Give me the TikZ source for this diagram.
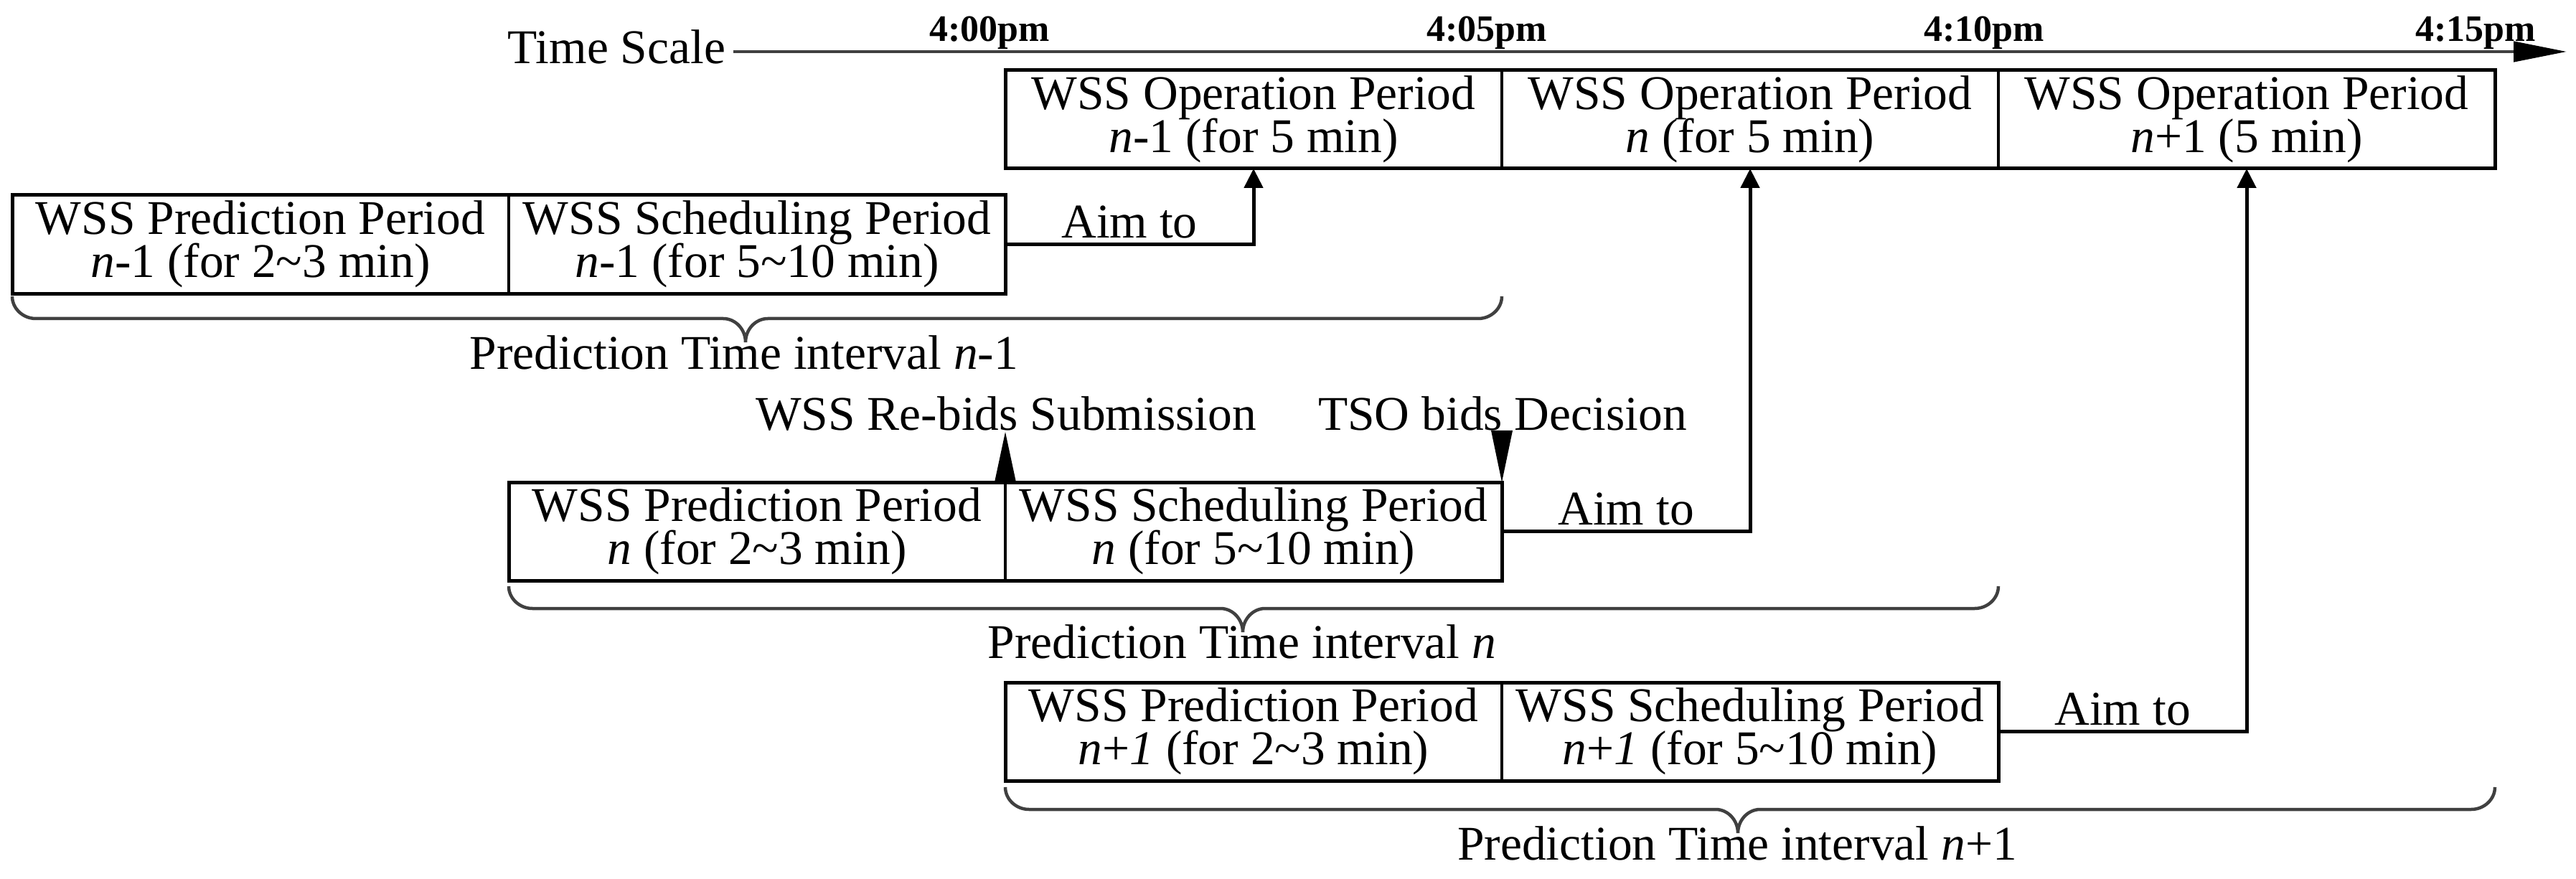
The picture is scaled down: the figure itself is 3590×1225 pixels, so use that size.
\documentclass[tikz,border=0pt]{standalone}
\usepackage{fontspec}
\setmainfont{Liberation Serif}
\usetikzlibrary{arrows.meta,calc}
\definecolor{axisgray}{HTML}{404040}
\newcommand{\diagfont}{\fontsize{13.5pt}{12pt}\selectfont\lineskiplimit=-20pt\relax}
\newcommand{\timefont}{\fontsize{10.4pt}{12pt}\selectfont\bfseries}
\tikzset{
  cell/.style={draw, line width=0.7pt, minimum width=138.4pt, minimum height=27.4pt,
    inner sep=0pt, outer sep=0pt, anchor=north west, align=center, font=\diagfont},
  outerbox/.style={line width=1pt},
  aim/.style={line width=1pt, -{Triangle[length=5.4pt,width=5.2pt]}},
  aimlbl/.style={anchor=base, inner sep=0pt, yshift=1.8pt, font=\diagfont},
  lbl/.style={anchor=base, inner sep=0pt, font=\diagfont},
  tlabel/.style={anchor=base, inner sep=0pt, font=\timefont},
  axisline/.style={line width=0.9pt, draw=axisgray, -{Triangle[length=14.8pt,width=5.6pt,color=black]}},
  brc/.style={line width=0.9pt, draw=axisgray},
}
% xl, xr, xt, y  (picture units, y downwards)
\newcommand{\curlybrace}[4]{%
  \draw[brc] (#1,#4) .. controls (#1,{#4+17}) and ({#1+15},{#4+31}) .. ({#1+33},{#4+31})
    -- ({#3-31},{#4+31}) .. controls ({#3-14},{#4+31}) and (#3,{#4+46}) .. (#3,{#4+64})
    .. controls (#3,{#4+46}) and ({#3+14},{#4+31}) .. ({#3+31},{#4+31})
    -- ({#2-33},{#4+31}) .. controls ({#2-15},{#4+31}) and (#2,{#4+17}) .. (#2,#4);}
\begin{document}
\begin{tikzpicture}[x=0.2pt,y=-0.2pt]
\useasboundingbox (0,0) rectangle (3590,1225);

% time axis
\node[anchor=base east, inner sep=0pt, font=\diagfont] (tscale) at (1012,89) {Time Scale};
\coordinate (ax0) at (1022,72);
\coordinate (ax1) at (3577,72);
\draw[axisline] (ax0) -- (ax1);
\node[tlabel] (t0) at (1379,58) {4:00pm};
\node[tlabel] (t5) at (2072,58) {4:05pm};
\node[tlabel] (t10) at (2765,58) {4:10pm};
\node[tlabel] (t15) at (3450,58) {4:15pm};

% operation periods
\node[cell] (op1) at (1401,98) {WSS Operation Period\\\textit{n}-1 (for 5 min)};
\node[cell] (op2) at (op1.north east) {WSS Operation Period\\\textit{n} (for 5 min)};
\node[cell] (op3) at (op2.north east) {WSS Operation Period\\\textit{n}+1 (5 min)};
\draw[outerbox] (op1.north west) rectangle (op3.south east);

% row n-1
\node[cell] (r1pred) at (17,272) {WSS Prediction Period\\\textit{n}-1 (for 2\textasciitilde3 min)};
\node[cell] (r1sched) at (r1pred.north east) {WSS Scheduling Period\\\textit{n}-1 (for 5\textasciitilde10 min)};
\draw[outerbox] (r1pred.north west) rectangle (r1sched.south east);
\draw[aim] (r1sched.east) -| node[aimlbl, pos=0.25] (aim1) {Aim to} (op1.south);

% row n
\node[cell] (r2pred) at (709,672) {WSS Prediction Period\\\textit{n} (for 2\textasciitilde3 min)};
\node[cell] (r2sched) at (r2pred.north east) {WSS Scheduling Period\\\textit{n} (for 5\textasciitilde10 min)};
\draw[outerbox] (r2pred.north west) rectangle (r2sched.south east);
\draw[aim] (r2sched.east) -| node[aimlbl, pos=0.25] (aim2) {Aim to} (op2.south);

% row n+1
\node[cell] (r3pred) at (1401,951) {WSS Prediction Period\\\textit{n}+\textit{1} (for 2\textasciitilde3 min)};
\node[cell] (r3sched) at (r3pred.north east) {WSS Scheduling Period\\\textit{n}+\textit{1} (for 5\textasciitilde10 min)};
\draw[outerbox] (r3pred.north west) rectangle (r3sched.south east);
\draw[aim] (r3sched.east) -| node[aimlbl, pos=0.25] (aim3) {Aim to} (op3.south);

% bids markers
\node[lbl] (rebid) at (1402,600) {WSS Re-bids Submission};
\node[lbl] (tso) at (2094,600) {TSO bids Decision};
\fill ($(r2pred.north east)+(-15,0)$) -- ($(r2pred.north east |- rebid.base)+(0,2)$) -- ($(r2pred.north east)+(15,0)$) -- cycle;
\fill ($(r2sched.north east |- tso.base)+(-15,0)$) -- ($(r2sched.north east |- tso.base)+(15,0)$) -- (r2sched.north east) -- cycle;

% braces
\curlybrace{17}{2093}{1039}{413}
\node[lbl] (pti1) at (1037,515) {Prediction Time interval \textit{n}-1};
\curlybrace{709}{2785}{1732}{817}
\node[lbl] (pti2) at (1731,917) {Prediction Time interval \textit{n}};
\curlybrace{1401}{3477}{2422}{1097}
\node[lbl] (pti3) at (2421,1198) {Prediction Time interval \textit{n}+1};
\end{tikzpicture}
\end{document}
